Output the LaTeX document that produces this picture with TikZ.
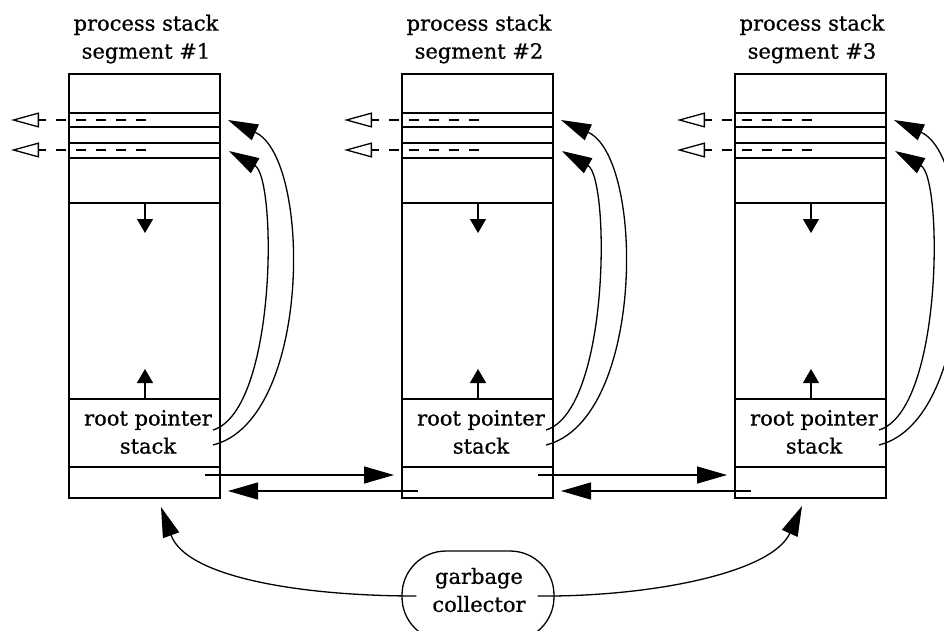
\documentclass[tikz,border=0pt]{standalone}
\usepackage{fontspec}
\setmainfont{DejaVu Serif}[FakeBold=0.7]
\usetikzlibrary{arrows.meta}

\begin{document}
\begin{tikzpicture}[x=1pt,y=-1pt,line width=1.3pt,
  bighead/.style={-{Triangle[length=30pt,width=17pt]}},
  smallhead/.style={-{Triangle[length=14pt,width=16pt]}},
  openhead/.style={dash pattern=on 10pt off 10pt,-{Triangle[open,length=28pt,width=15pt]}},
  lbl/.style={align=center,inner sep=0pt,font=\fontsize{21}{28}\selectfont}]
\clip (0,0) rectangle (944,630);
% one stack segment per column
\foreach \i/\dx in {1/0,2/333,3/666} {
\begin{scope}[xshift=\dx pt]
\node[lbl] (title\i) at (146,39) {process stack\\segment \#\i};
\draw (69,74) rectangle (220,498);
\foreach \y in {113,127,143,158,203,399,467} \draw (69,\y) -- (220,\y);
\node[lbl] (rps\i) at (148,432) {root pointer\\stack};
% slots and free ends
\coordinate (slota\i) at (228,120);
\coordinate (slotb\i) at (229,151);
\coordinate (roota\i) at (213,430);
\coordinate (rootb\i) at (213,445);
\coordinate (dasha\i) at (146,120);
\coordinate (dashb\i) at (146,150);
\coordinate (outa\i) at (11,120);
\coordinate (outb\i) at (11,150);
\coordinate (top\i) at (145,203);
\coordinate (down\i) at (145,233);
\coordinate (bot\i) at (145,399);
\coordinate (up\i) at (145,369);
\coordinate (next\i) at (205,475);
\coordinate (prev\i) at (85,491);
\coordinate (in\i) at (61,475);
\coordinate (back\i) at (228,491);
\draw[openhead] (dasha\i) -- (outa\i);
\draw[openhead] (dashb\i) -- (outb\i);
\draw[smallhead] (top\i) -- (down\i);
\draw[smallhead] (bot\i) -- (up\i);
\draw[bighead] (rootb\i) .. controls +(99,-25) and +(84,38) .. (slota\i);
\draw[bighead] (roota\i) .. controls +(64,-20) and +(48,27) .. (slotb\i);
\end{scope}
}
% links between segments
\draw[bighead] (next1) -- (in2);
\draw[bighead] (prev2) -- (back1);
\draw[bighead] (next2) -- (in3);
\draw[bighead] (prev3) -- (back2);
% garbage collector
\node[draw,rounded corners=44pt,minimum width=152pt,minimum height=90pt] (gc) at (478,596) {};
\node[lbl] (gctext) at (479,590) {garbage\\collector};
\coordinate (gcl) at ([xshift=15pt]gc.west);
\coordinate (gcr) at ([xshift=-17pt]gc.east);
\coordinate (foot1) at (161,507);
\coordinate (foot3) at (802,506);
\draw[bighead] (gcl) .. controls (300,596) and (186,577) .. (foot1);
\draw[bighead] (gcr) .. controls (650,597) and (772,573) .. (foot3);
\end{tikzpicture}
\end{document}
